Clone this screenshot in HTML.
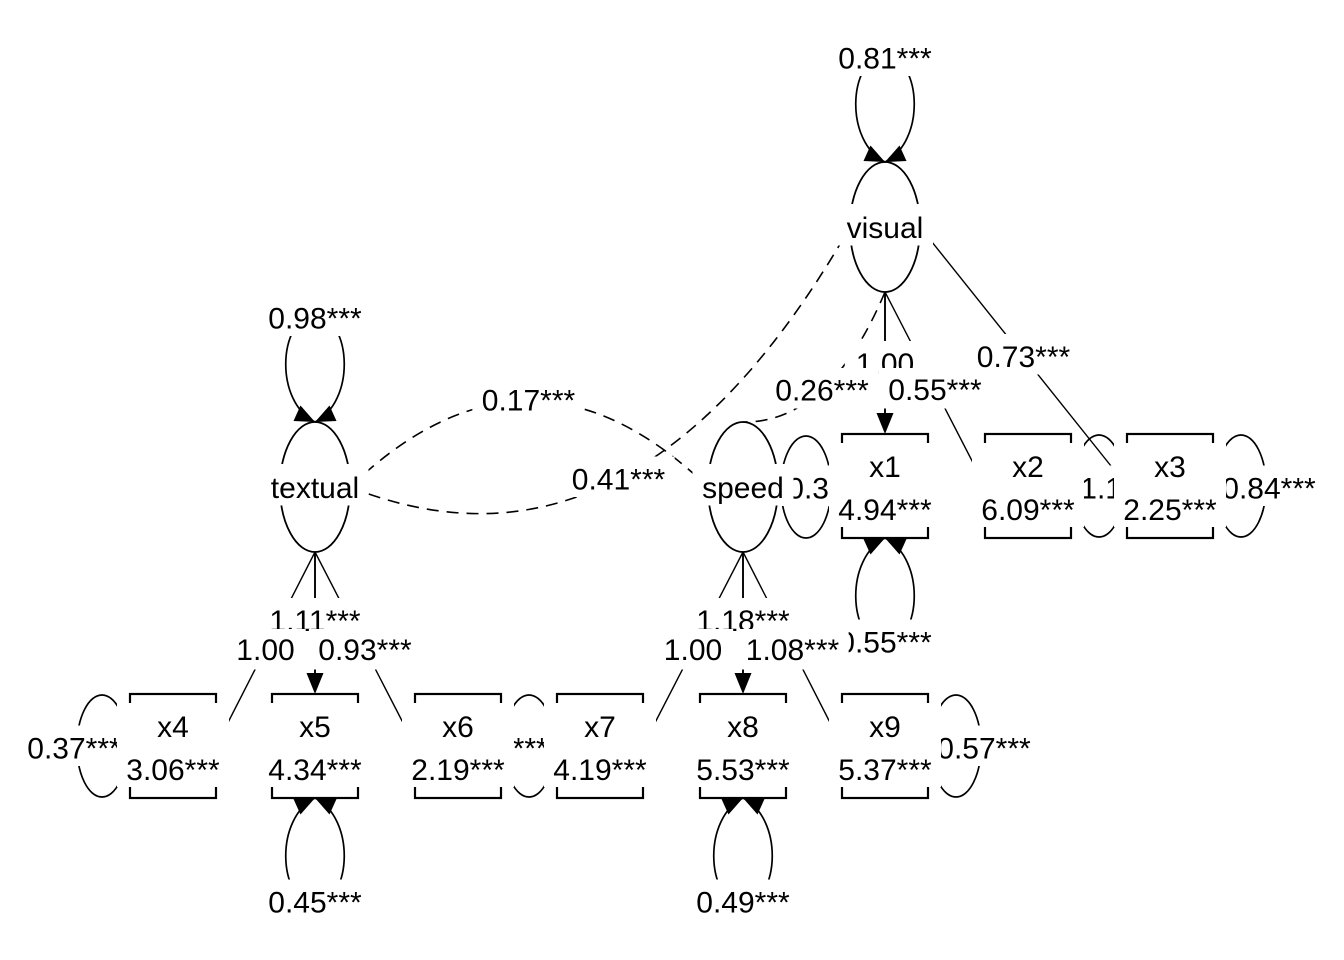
<!DOCTYPE html>
<html>
<head>
<meta charset="utf-8">
<style>
  html, body { margin: 0; padding: 0; background: #ffffff; }
  svg { display: block; }
  text { font-family: "Liberation Sans", Arial, sans-serif; font-size: 30px; fill: #000; }
</style>
</head>
<body>
<svg width="1344" height="960" viewBox="0 0 1344 960" xmlns="http://www.w3.org/2000/svg">
  <rect x="0" y="0" width="1344" height="960" fill="#ffffff"/>

  <!-- ===== Loading edges ===== -->
  <g stroke="#000" fill="none" stroke-linecap="butt">
    <line x1="885" y1="292" x2="885" y2="416" stroke-width="1.9"/>
    <line x1="885" y1="292" x2="985" y2="486" stroke-width="1.4"/>
    <line x1="920" y1="227" x2="1127" y2="486" stroke-width="1.4"/>
    <line x1="315" y1="552" x2="216" y2="746" stroke-width="1.4"/>
    <line x1="315" y1="552" x2="315" y2="676" stroke-width="1.9"/>
    <line x1="315" y1="552" x2="415" y2="746" stroke-width="1.4"/>
    <line x1="743" y1="552" x2="643" y2="746" stroke-width="1.4"/>
    <line x1="743" y1="552" x2="743" y2="676" stroke-width="1.9"/>
    <line x1="743" y1="552" x2="842" y2="746" stroke-width="1.4"/>
  </g>
  <g fill="#000">
    <polygon points="885,434 876.5,413 893.5,413"/>
    <polygon points="315,694 306.5,673 323.5,673"/>
    <polygon points="743,694 734.5,673 751.5,673"/>
  </g>

  <!-- ===== Covariance curves (dashed) ===== -->
  <g stroke="#000" fill="none" stroke-width="1.6" stroke-dasharray="12 8">
    <path d="M350,487 Q529,315 708,487"/>
    <path d="M350,487 Q636,601 850,227"/>
    <path d="M885,292 Q829.75,423 743,422"/>
  </g>

  <!-- ===== Variance loops ===== -->
  <g stroke="#000" fill="none" stroke-width="1.7">
    <path d="M885,162 C845,142 847,62 885,52 C923,62 925,142 885,162"/>
    <path d="M315,422 C275,402 277,322 315,312 C353,322 355,402 315,422"/>
    <path d="M885,538 C845,558 847,638 885,648 C923,638 925,558 885,538"/>
    <path d="M315,798 C275,818 277,898 315,908 C353,898 355,818 315,798"/>
    <path d="M743,798 C703,818 705,898 743,908 C781,898 783,818 743,798"/>
    <ellipse cx="102" cy="746" rx="25" ry="51"/>
    <ellipse cx="529" cy="746" rx="25" ry="51"/>
    <ellipse cx="956" cy="746" rx="25" ry="51"/>
    <ellipse cx="806" cy="487" rx="25" ry="51"/>
    <ellipse cx="1099" cy="486" rx="25" ry="51"/>
    <ellipse cx="1241" cy="486" rx="25" ry="51"/>
  </g>
  <g fill="#000">
    <polygon points="885,162 863.5,161 870.5,145.5"/>
    <polygon points="885,162 906.5,161 899.5,145.5"/>
    <polygon points="315,422 293.5,421 300.5,405.5"/>
    <polygon points="315,422 336.5,421 329.5,405.5"/>
    <polygon points="885,538 863.5,539 870.5,554.5"/>
    <polygon points="885,538 906.5,539 899.5,554.5"/>
    <polygon points="315,798 293.5,799 300.5,814.5"/>
    <polygon points="315,798 336.5,799 329.5,814.5"/>
    <polygon points="743,798 721.5,799 728.5,814.5"/>
    <polygon points="743,798 764.5,799 757.5,814.5"/>
  </g>

  <!-- ===== Nodes (shapes) ===== -->
  <g stroke="#000" fill="none">
    <ellipse cx="885" cy="227" rx="35" ry="65" stroke-width="1.8"/>
    <ellipse cx="315" cy="487" rx="35" ry="65" stroke-width="1.8"/>
    <ellipse cx="743" cy="487" rx="35" ry="65" stroke-width="1.8"/>
    <g stroke-width="2.2">
      <rect x="842" y="434" width="86" height="104"/>
      <rect x="985" y="434" width="86" height="104"/>
      <rect x="1127" y="434" width="86" height="104"/>
      <rect x="130" y="694" width="86" height="104"/>
      <rect x="272" y="694" width="86" height="104"/>
      <rect x="415" y="694" width="86" height="104"/>
      <rect x="557" y="694" width="86" height="104"/>
      <rect x="700" y="694" width="86" height="104"/>
      <rect x="842" y="694" width="86" height="104"/>
    </g>
  </g>

  <!-- ===== Edge labels ===== -->
  <g text-anchor="middle">
    <rect x="828.85" y="35.5" width="112.3" height="40.5" fill="#fff"/><text x="885" y="68.5">0.81***</text>
    <rect x="258.85" y="295.5" width="112.3" height="40.5" fill="#fff"/><text x="315" y="328.5">0.98***</text>
    <rect x="777.85" y="465.5" width="112.3" height="40.5" fill="#fff"/><text x="834" y="498.5">0.38***</text>
    <rect x="828.85" y="619.5" width="112.3" height="40.5" fill="#fff"/><text x="885" y="652.5">0.55***</text>
    <rect x="1070.85" y="465.5" width="112.3" height="40.5" fill="#fff"/><text x="1127" y="498.5">1.13***</text>
    <rect x="1212.85" y="465.5" width="112.3" height="40.5" fill="#fff"/><text x="1269" y="498.5">0.84***</text>
    <rect x="17.85" y="725.5" width="112.3" height="40.5" fill="#fff"/><text x="74" y="758.5">0.37***</text>
    <rect x="258.85" y="879.5" width="112.3" height="40.5" fill="#fff"/><text x="315" y="912.5">0.45***</text>
    <rect x="500.85" y="725.5" width="112.3" height="40.5" fill="#fff"/><text x="557" y="758.5">0.36***</text>
    <rect x="444.85" y="725.5" width="112.3" height="40.5" fill="#fff"/><text x="501" y="758.5">0.80***</text>
    <rect x="686.85" y="879.5" width="112.3" height="40.5" fill="#fff"/><text x="743" y="912.5">0.49***</text>
    <rect x="927.85" y="725.5" width="112.3" height="40.5" fill="#fff"/><text x="984" y="758.5">0.57***</text>

    <rect x="844.8" y="341" width="80.4" height="40.5" fill="#fff"/><text x="885" y="374">1.00</text>
    <rect x="258.85" y="598" width="112.3" height="40.5" fill="#fff"/><text x="315" y="631">1.11***</text>
    <rect x="686.85" y="598" width="112.3" height="40.5" fill="#fff"/><text x="743" y="631">1.18***</text>

    <rect x="472.35" y="377.5" width="112.3" height="40.5" fill="#fff"/><text x="528.5" y="410.5">0.17***</text>
    <rect x="562.35" y="456.5" width="112.3" height="40.5" fill="#fff"/><text x="618.5" y="489.5">0.41***</text>
    <rect x="765.85" y="368" width="112.3" height="40.5" fill="#fff"/><text x="822" y="400.5">0.26***</text>

    <rect x="878.85" y="368" width="112.3" height="40.5" fill="#fff"/><text x="935" y="400">0.55***</text>
    <rect x="967.35" y="334" width="112.3" height="40.5" fill="#fff"/><text x="1023.5" y="367">0.73***</text>
    <rect x="225.3" y="629" width="80.4" height="40.5" fill="#fff"/><text x="265.5" y="660">1.00</text>
    <rect x="308.85" y="629" width="112.3" height="40.5" fill="#fff"/><text x="365" y="660">0.93***</text>
    <rect x="652.8" y="629" width="80.4" height="40.5" fill="#fff"/><text x="693" y="660">1.00</text>
    <rect x="736.35" y="629" width="112.3" height="40.5" fill="#fff"/><text x="792.5" y="660">1.08***</text>
  </g>

  <!-- ===== Node labels ===== -->
  <g text-anchor="middle">
    <rect x="837" y="204" width="96" height="41.5" fill="#fff"/><text x="885" y="238">visual</text>
    <rect x="261.5" y="464" width="107" height="41.5" fill="#fff"/><text x="315" y="498">textual</text>
    <rect x="692.5" y="464" width="101" height="41.5" fill="#fff"/><text x="743" y="498">speed</text>

    <rect x="829" y="443" width="112" height="84" fill="#fff"/><text x="885" y="477">x1</text><text x="885" y="520">4.94***</text>
    <rect x="972" y="443" width="112" height="84" fill="#fff"/><text x="1028" y="477">x2</text><text x="1028" y="520">6.09***</text>
    <rect x="1114" y="443" width="112" height="84" fill="#fff"/><text x="1170" y="477">x3</text><text x="1170" y="520">2.25***</text>

    <rect x="117" y="703" width="112" height="84" fill="#fff"/><text x="173" y="737">x4</text><text x="173" y="780">3.06***</text>
    <rect x="259" y="703" width="112" height="84" fill="#fff"/><text x="315" y="737">x5</text><text x="315" y="780">4.34***</text>
    <rect x="402" y="703" width="112" height="84" fill="#fff"/><text x="458" y="737">x6</text><text x="458" y="780">2.19***</text>
    <rect x="544" y="703" width="112" height="84" fill="#fff"/><text x="600" y="737">x7</text><text x="600" y="780">4.19***</text>
    <rect x="687" y="703" width="112" height="84" fill="#fff"/><text x="743" y="737">x8</text><text x="743" y="780">5.53***</text>
    <rect x="829" y="703" width="112" height="84" fill="#fff"/><text x="885" y="737">x9</text><text x="885" y="780">5.37***</text>
  </g>
</svg>
</body>
</html>
